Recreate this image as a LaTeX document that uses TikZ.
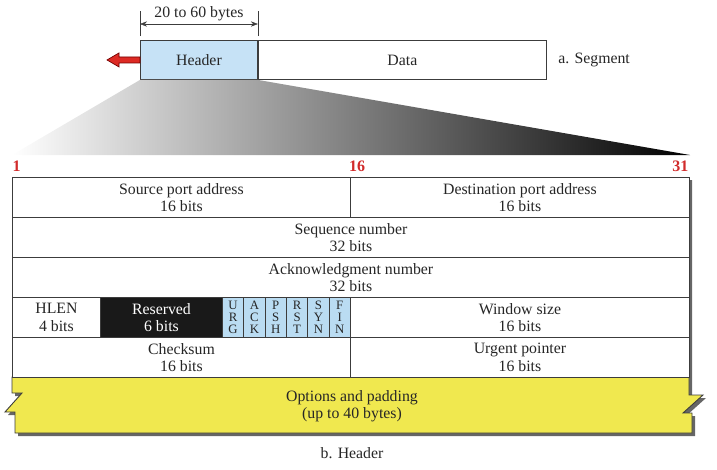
\documentclass[tikz,border=0pt]{standalone}
\usepackage{fontspec}
\setmainfont{Liberation Serif}
\usetikzlibrary{arrows.meta, positioning, calc}
\definecolor{hdrblue}{HTML}{C6E2F6}
\definecolor{flagblue}{HTML}{BADCF2}
\definecolor{optyellow}{HTML}{F0E84F}
\definecolor{numred}{HTML}{D12B2B}
\definecolor{arrred}{HTML}{DD2A24}
\definecolor{linegray}{HTML}{3C3C3C}

\begin{document}
\begin{tikzpicture}[x=1pt, y=-1pt,
    every node/.style={font=\fontsize{15.8}{17.5}\selectfont, text=black!85},
    fld/.style={draw=linegray, fill=white, line width=0.9pt, anchor=north west,
                inner sep=0pt, align=center, minimum height=#1},
    fld/.default=40pt,
    flag/.style={fld, fill=flagblue, minimum width=21.33pt,
                 font=\fontsize{12.8}{12}\selectfont},
    bitno/.style={text=numred, font=\fontsize{16}{18}\selectfont\bfseries},
]
    \useasboundingbox (0,0) rectangle (717,469);

    % a. Segment
    \node[fld, fill=hdrblue, minimum width=117pt, minimum height=39pt] (hdr) at (140,40) {Header};
    \node[fld, minimum width=288pt, minimum height=39pt, right=0pt of hdr] (data) {Data};
    \node[right=8pt of data] (seglbl) {a. Segment};
    \draw[linegray] ($(hdr.north west)+(0,-4)$) -- ++(0,-25);
    \draw[linegray] ($(hdr.north east)+(0,-4)$) -- ++(0,-25);
    \draw[linegray, {Stealth[length=7pt]}-{Stealth[length=7pt]}]
        ($(hdr.north west)+(0,-16)$) -- ($(hdr.north east)+(0,-16)$)
        node[midway, above=0pt] (dimlbl) {20 to 60 bytes};
    \draw[fill=arrred, draw=red!45!black, line width=0.7pt]
        (hdr.west) ++(0,3) -- ++(-21,0) -- ++(0,4) -- ++(-12,-7) -- ++(12,-7) -- ++(0,4) -- ++(21,0) -- cycle;

    % zoom
    \shade[left color=white, right color=black]
        (hdr.south west) -- (hdr.south east) -- (690,155) -- (12,155) -- cycle;
    \node[bitno, anchor=west] (b1) at (9,166) {1};
    \node[bitno] (b16) at (357,166) {16};
    \node[bitno, anchor=east] (b31) at (692,166) {31};

    % b. Header
    \fill[black!60, shift={(3,3)}] (12,177) -- (689,177) -- (689,395) -- (703,395) -- (683,413)
        -- (692,413) -- (692,433) -- (15,433) -- (15,412) -- (5,412) -- (22,393) -- (12,393) -- cycle;
    \draw[fill=optyellow, draw=linegray, line width=0.9pt] (12,377) -- (689,377) -- (689,395) -- (703,395)
        -- (683,413) -- (692,413) -- (692,433) -- (15,433) -- (15,412) -- (5,412) -- (22,393) -- (12,393) -- cycle;
    \node[align=center] (opts) at (352,406) {Options and padding\\(up to 40 bytes)};

    \node[fld, minimum width=338pt] (srcport) at (12,177) {Source port address\\16 bits};
    \node[fld, minimum width=339pt] (dstport) at (350,177) {Destination port address\\16 bits};
    \node[fld, minimum width=677pt] (seqnum) at (12,217) {Sequence number\\32 bits};
    \node[fld, minimum width=677pt] (acknum) at (12,257) {Acknowledgment number\\32 bits};
    \node[fld, minimum width=88pt] (hlen) at (12,297) {HLEN\\4 bits};
    \node[fld, fill=black!90, text=white, minimum width=122pt] (rsvd) at (100,297) {Reserved\\6 bits};
    \foreach \a/\b/\c [count=\i from 0] in {U/R/G, A/C/K, P/S/H, R/S/T, S/Y/N, F/I/N}
        \node[flag] (flag\i) at (222+21.33*\i, 297) {\a\\\b\\\c};
    \node[fld, minimum width=339pt] (window) at (350,297) {Window size\\16 bits};
    \node[fld, minimum width=338pt] (cksum) at (12,337) {Checksum\\16 bits};
    \node[fld, minimum width=339pt] (urgptr) at (350,337) {Urgent pointer\\16 bits};

    \node (hdrlbl) at (352,453) {b. Header};
\end{tikzpicture}
\end{document}
